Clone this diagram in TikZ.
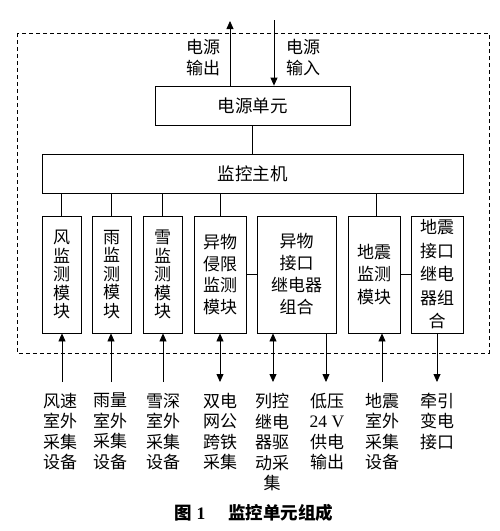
\documentclass[tikz,border=0pt]{standalone}
\usepackage{fontspec}
\setmainfont{Liberation Serif}
\newfontfamily\cjk{Noto Sans CJK SC}
\usetikzlibrary{arrows.meta}
\tikzset{
  box/.style={draw, line width=0.8pt, inner sep=0pt, align=center, font=\cjk\fontsize{17.5}{20}\selectfont},
  lab/.style={inner sep=0pt, align=center, font=\cjk\fontsize{17}{20.5}\selectfont},
  conn/.style={line width=0.8pt},
  arr/.style={line width=0.8pt, -{Triangle[length=8pt,width=7pt]}},
  darr/.style={line width=0.8pt, {Triangle[length=8pt,width=7pt]}-{Triangle[length=8pt,width=7pt]}},
}
\begin{document}
\begin{tikzpicture}[x=1pt,y=-1pt]
\useasboundingbox (0,0) rectangle (500,531);
\draw[line width=0.7pt, dash pattern=on 4pt off 3pt] (17,33) rectangle (489,353);

\node[box, minimum width=195pt, minimum height=39pt] (pw) at (252.5,105.5) {电源单元};
\node[box, minimum width=421pt, minimum height=39pt] (host) at (252.5,173.5) {监控主机};

\node[box, minimum width=39pt, minimum height=117pt, font=\cjk\fontsize{17}{18.5}\selectfont] (m1) at (61.5,274.5) {风\\监\\测\\模\\块};
\node[box, minimum width=39pt, minimum height=117pt, font=\cjk\fontsize{17}{18.5}\selectfont] (m2) at (111.5,274.5) {雨\\监\\测\\模\\块};
\node[box, minimum width=39pt, minimum height=117pt, font=\cjk\fontsize{17}{18.5}\selectfont] (m3) at (162.5,274.5) {雪\\监\\测\\模\\块};
\node[box, minimum width=52pt, minimum height=117pt, font=\cjk\fontsize{17}{21.5}\selectfont] (m4) at (220,274.5) {异物\\侵限\\监测\\模块};
\node[box, minimum width=79pt, minimum height=117pt, font=\cjk\fontsize{17}{22}\selectfont] (m5) at (296.5,274.5) {异物\\接口\\继电器\\组合};
\node[box, minimum width=52pt, minimum height=117pt, font=\cjk\fontsize{17}{22.5}\selectfont] (m6) at (374,274.5) {地震\\监测\\模块};
\node[box, minimum width=52pt, minimum height=117pt, font=\cjk\fontsize{17}{23.5}\selectfont] (m7) at (437,274.5) {地震\\接口\\继电\\器组\\合};

% power arrows
\coordinate (po) at (230,21);
\coordinate (pi) at (274,20);
\draw[arr] (pw.north -| po) -- (po);
\draw[arr] (pi) -- (pw.north -| pi);
\node[lab] (lo) at (203,57.5) {电源\\输出};
\node[lab] (li) at (303,57.5) {电源\\输入};

% power to host
\draw[conn] (pw.south) -- (pw.south |- host.north);
% host to modules
\draw[conn] (m1.north) -- (m1.north |- host.south);
\draw[conn] (m2.north) -- (m2.north |- host.south);
\draw[conn] (m3.north) -- (m3.north |- host.south);
\draw[conn] (m4.north) -- (m4.north |- host.south);
\draw[conn] ([xshift=2pt]m6.north) -- ([xshift=2pt]m6.north |- host.south);
% module pairs
\draw[conn] (m4.east) -- (m5.west);
\draw[conn] (m6.east) -- (m7.west);

% bottom connectors
\coordinate (b1) at (62,382);
\coordinate (b2) at (111,382);
\coordinate (b3) at (163,382);
\coordinate (b4) at (220,382);
\coordinate (b5) at (273,382);
\coordinate (b6) at (326,382);
\coordinate (b7) at (382,382);
\coordinate (b8) at (437,382);
\draw[arr] (b1) -- (b1 |- m1.south);
\draw[arr] (b2) -- (b2 |- m2.south);
\draw[arr] (b3) -- (b3 |- m3.south);
\draw[darr] (b4) -- (b4 |- m4.south);
\draw[darr] (b5) -- (b5 |- m5.south);
\draw[arr] (b6 |- m5.south) -- (b6);
\draw[arr] (b7) -- (b7 |- m6.south);
\draw[arr] (b8 |- m7.south) -- (b8);

% bottom labels
\node[lab, anchor=north] (t1) at (60,393) {风速\\室外\\采集\\设备};
\node[lab, anchor=north] (t2) at (110,393) {雨量\\室外\\采集\\设备};
\node[lab, anchor=north] (t3) at (163,393) {雪深\\室外\\采集\\设备};
\node[lab, anchor=north] (t4) at (220,393) {双电\\网公\\跨铁\\采集};
\node[lab, anchor=north] (t5) at (272,393) {列控\\继电\\器驱\\动采\\集};
\node[lab, anchor=north] (t6) at (327,393) {低压\\{\rmfamily\fontsize{17.5}{20}\selectfont 24 V}\\供电\\输出};
\node[lab, anchor=north] (t7) at (382,393) {地震\\室外\\采集\\设备};
\node[lab, anchor=north] (t8) at (437,393) {牵引\\变电\\接口};

% caption
\node[inner sep=0pt, font=\fontsize{17.5}{20}\selectfont\bfseries] (cap) at (254,513) {{\cjk 图} 1\hspace{1.3em}{\cjk 监控单元组成}};
\end{tikzpicture}
\end{document}
